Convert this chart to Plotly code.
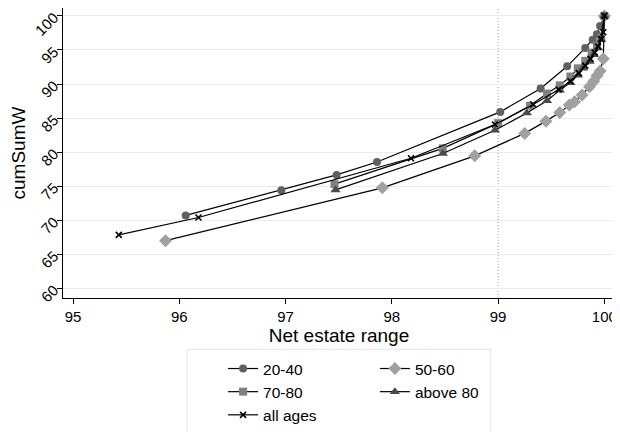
import plotly.graph_objects as go

# ---- data ----
x_2040 = [96.06, 96.96, 97.48, 97.86, 99.02, 99.40, 99.65, 99.82, 99.89, 99.93, 99.96, 100.0]
y_2040 = [70.7, 74.4, 76.65, 78.55, 85.9, 89.35, 92.6, 95.3, 96.5, 97.3, 98.5, 100.0]

x_5060 = [95.87, 97.91, 98.78, 99.25, 99.45, 99.58, 99.67, 99.72, 99.79, 99.86, 99.90, 99.93, 99.96, 99.99, 100.0]
y_5060 = [67.0, 74.75, 79.45, 82.75, 84.55, 85.8, 86.9, 87.4, 88.4, 89.6, 90.4, 91.2, 91.9, 93.7, 100.0]

x_7080 = [97.46, 98.48, 99.0, 99.30, 99.46, 99.58, 99.68, 99.75, 99.82, 99.88, 99.93, 99.97, 100.0]
y_7080 = [75.3, 80.55, 84.25, 86.8, 88.6, 89.8, 91.1, 92.3, 93.4, 94.6, 95.6, 96.8, 100.0]

x_80p = [97.47, 98.48, 98.97, 99.27, 99.46, 99.58, 99.68, 99.75, 99.80, 99.86, 99.90, 99.94, 99.97, 100.0]
y_80p = [74.45, 79.8, 83.2, 85.75, 87.55, 89.1, 90.2, 91.3, 92.3, 93.3, 94.3, 95.3, 96.5, 100.0]

x_all = [95.43, 96.18, 98.18, 98.97, 99.33, 99.57, 99.68, 99.76, 99.82, 99.87, 99.91, 99.94, 99.97, 99.99, 100.0]
y_all = [67.85, 70.4, 79.1, 84.05, 87.0, 89.2, 90.4, 91.6, 92.7, 93.7, 94.6, 95.5, 96.6, 97.6, 100.0]

x_ticks = [95, 96, 97, 98, 99, 100]
y_ticks = [60, 65, 70, 75, 80, 85, 90, 95, 100]
vline_x = 99

FONT = "Liberation Sans, Arial, sans-serif"

series = [
    ("20-40", x_2040, y_2040, "circle", 8, "#606060", "legend"),
    ("50-60", x_5060, y_5060, "diamond", 10, "#a0a0a0", "legend2"),
    ("70-80", x_7080, y_7080, "square", 8, "#808080", "legend"),
    ("above 80", x_80p, y_80p, "triangle-up", 9, "#4a4a4a", "legend2"),
    ("all ages", x_all, y_all, "x-thin", 6, "#000000", "legend"),
]

fig = go.Figure()
for name, xs, ys, sym, size, col, leg in series:
    fig.add_trace(go.Scatter(
        x=xs, y=ys, name=name, mode="lines+markers",
        line=dict(color="black", width=1.2),
        marker=dict(symbol=sym, size=size, color=col,
                    line=dict(color=col, width=1.6 if sym == "x-thin" else 0)),
        legend=leg,
    ))

fig.add_shape(type="line", xref="x", yref="paper", x0=vline_x, x1=vline_x, y0=0, y1=1,
              line=dict(color="#9a9a9a", width=1, dash="1px,2px"), layer="below")

# legend frame
fig.add_shape(type="rect", xref="paper", yref="paper",
              x0=0.2246, x1=0.775, y0=-0.1767, y1=-0.50,
              line=dict(color="#e4e4e4", width=1), fillcolor="rgba(0,0,0,0)")

# the page body has an 8px margin, so the figure is 8px smaller than the window
fig.update_layout(
    width=612, height=424,
    margin=dict(l=55, r=5, t=0, b=125),
    paper_bgcolor="white", plot_bgcolor="white",
    font=dict(family=FONT, size=15.5, color="black"),
    showlegend=True,
    legend=dict(x=0.29, y=-0.186, xanchor="left", yanchor="top",
                orientation="v", bgcolor="rgba(0,0,0,0)", font=dict(size=15.5),
                tracegroupgap=0),
    legend2=dict(x=0.565, y=-0.186, xanchor="left", yanchor="top",
                 orientation="v", bgcolor="rgba(0,0,0,0)", font=dict(size=15.5),
                 tracegroupgap=0),
)

fig.update_xaxes(
    range=[94.905, 100.1], tickvals=x_ticks, ticktext=[str(v) for v in x_ticks],
    showgrid=False, zeroline=False, showline=True, linecolor="black", linewidth=1,
    ticks="outside", ticklen=5, tickcolor="black", tickfont=dict(size=15),
    title=dict(text="Net estate range", standoff=0),
)
fig.update_yaxes(
    range=[58.58, 101.16], tickvals=y_ticks, ticktext=[str(v) for v in y_ticks],
    showgrid=True, gridcolor="#eaeaea", gridwidth=1,
    zeroline=False, showline=True, linecolor="black", linewidth=1,
    ticks="outside", ticklen=5, tickcolor="black", tickangle=-45, tickfont=dict(size=15),
    title=dict(text="cumSumW", standoff=8),
)

fig.write_html("out.html")
